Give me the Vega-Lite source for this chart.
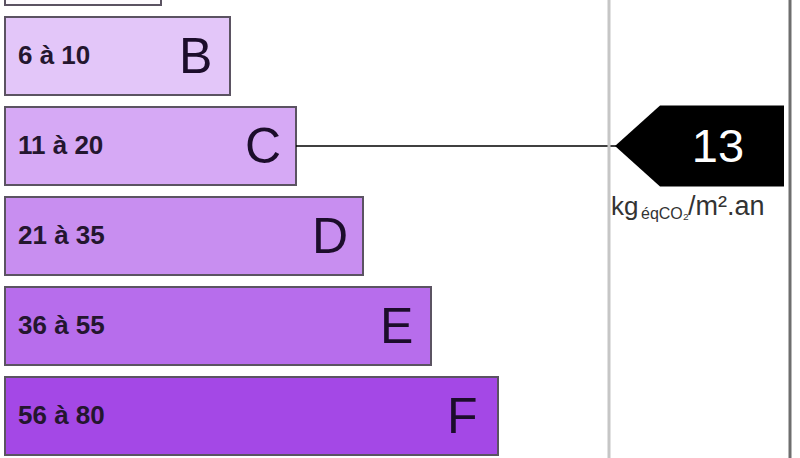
{
  "$schema": "https://vega.github.io/schema/vega-lite/v6.json",
  "width": 800,
  "height": 458,
  "autosize": {"type": "none"},
  "padding": 0,
  "background": "#ffffff",
  "config": {"view": {"stroke": null}, "font": "Liberation Sans"},
  "datasets": {
    "classes": [
      {"class": "A", "range": "≤ 5", "len": 161, "color": "#fdfbfe"},
      {"class": "B", "range": "6 à 10", "len": 230, "color": "#e3c6f9"},
      {"class": "C", "range": "11 à 20", "len": 296, "color": "#d6a9f5"},
      {"class": "D", "range": "21 à 35", "len": 363, "color": "#c88ef0"},
      {"class": "E", "range": "36 à 55", "len": 431, "color": "#b76dec"},
      {"class": "F", "range": "56 à 80", "len": 498, "color": "#a448e6"}
    ],
    "value": [{"class": "C", "value": 13}]
  },
  "layer": [
    {
      "data": {"name": "classes"},
      "mark": {"type": "bar", "stroke": "#5b5362", "strokeWidth": 2},
      "encoding": {
        "y": {"field": "class", "type": "nominal", "axis": null,
              "scale": {"domain": ["A","B","C","D","E","F"], "range": [-79, 461], "paddingInner": 0.1333, "paddingOuter": 0.0667}},
        "x": {"field": "len", "type": "quantitative", "axis": null,
              "scale": {"domain": [0, 800], "range": [0, 800], "zero": false, "nice": false}},
        "x2": {"datum": 5},
        "fill": {"field": "color", "type": "nominal", "scale": null, "legend": null}
      }
    },
    {
      "data": {"name": "classes"},
      "transform": [{"filter": "datum.class != 'A'"}],
      "mark": {"type": "text", "align": "left", "baseline": "middle", "fontSize": 26, "fontWeight": "bold", "color": "#24162f"},
      "encoding": {
        "y": {"field": "class", "type": "nominal"},
        "x": {"datum": 18, "type": "quantitative"},
        "text": {"field": "range"}
      }
    },
    {
      "data": {"name": "classes"},
      "transform": [{"filter": "datum.class != 'A'"}],
      "mark": {"type": "text", "align": "left", "baseline": "middle", "fontSize": 50, "dx": -51, "dy": 2, "color": "#1c0d2b"},
      "encoding": {
        "y": {"field": "class", "type": "nominal"},
        "x": {"field": "len", "type": "quantitative"},
        "text": {"field": "class"}
      }
    },
    {
      "data": {"name": "classes"},
      "transform": [{"filter": "datum.class == 'C'"}],
      "mark": {"type": "rule", "color": "#000000", "strokeWidth": 1.5},
      "encoding": {
        "y": {"field": "class", "type": "nominal"},
        "x": {"field": "len", "type": "quantitative"},
        "x2": {"datum": 620}
      }
    },
    {
      "data": {"name": "value"},
      "mark": {"type": "rule", "color": "#c6c6c6", "strokeWidth": 3},
      "encoding": {"x": {"datum": 609, "type": "quantitative"}}
    },
    {
      "data": {"name": "value"},
      "mark": {"type": "rule", "color": "#6e6e6e", "strokeWidth": 3},
      "encoding": {"x": {"datum": 790, "type": "quantitative"}}
    },
    {
      "data": {"name": "value"},
      "mark": {"type": "point", "filled": true, "opacity": 1, "color": "#000000",
               "shape": "M-1,0 L-0.467,-0.479 L1,-0.479 L1,0.479 L-0.467,0.479 Z", "size": 28561},
      "encoding": {
        "y": {"field": "class", "type": "nominal"},
        "x": {"datum": 699.5, "type": "quantitative"}
      }
    },
    {
      "data": {"name": "value"},
      "mark": {"type": "text", "align": "center", "baseline": "middle", "fontSize": 47, "color": "#ffffff", "dy": 2},
      "encoding": {
        "y": {"field": "class", "type": "nominal"},
        "x": {"datum": 718, "type": "quantitative"},
        "text": {"field": "value", "type": "quantitative"}
      }
    },
    {
      "data": {"name": "value"},
      "mark": {"type": "text", "align": "left", "baseline": "alphabetic", "fontSize": 26, "color": "#333333", "dy": 69},
      "encoding": {
        "y": {"field": "class", "type": "nominal"},
        "x": {"datum": 611, "type": "quantitative"},
        "text": {"value": "kg"}
      }
    },
    {
      "data": {"name": "value"},
      "mark": {"type": "text", "align": "left", "baseline": "alphabetic", "fontSize": 16, "color": "#333333", "dy": 73},
      "encoding": {
        "y": {"field": "class", "type": "nominal"},
        "x": {"datum": 641, "type": "quantitative"},
        "text": {"value": "éqCO₂"}
      }
    },
    {
      "data": {"name": "value"},
      "mark": {"type": "text", "align": "left", "baseline": "alphabetic", "fontSize": 27, "color": "#333333", "dy": 69},
      "encoding": {
        "y": {"field": "class", "type": "nominal"},
        "x": {"datum": 688, "type": "quantitative"},
        "text": {"value": "/m².an"}
      }
    }
  ]
}
